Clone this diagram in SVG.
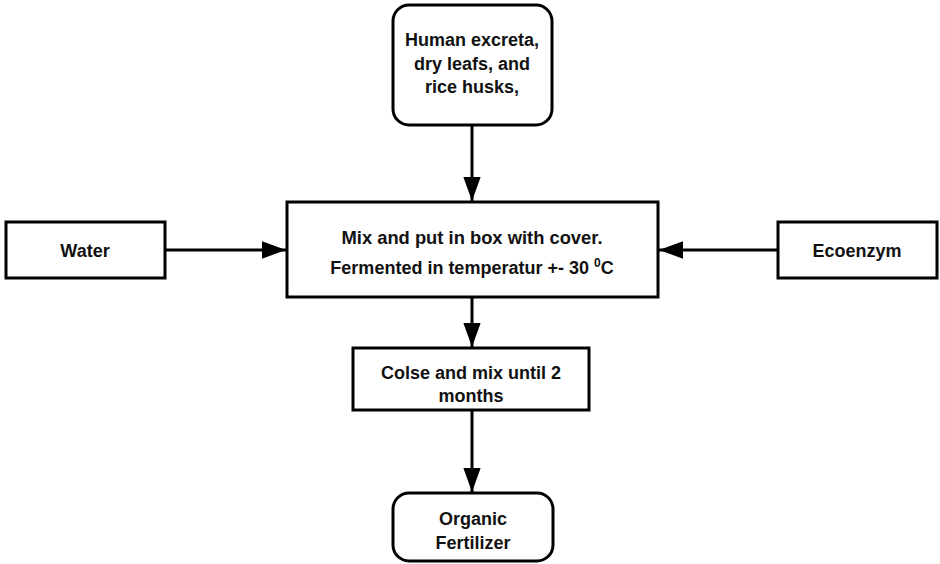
<svg xmlns="http://www.w3.org/2000/svg" width="940" height="564" viewBox="0 0 940 564">
<style>
.box{fill:#fff;stroke:#000;stroke-width:3}
.t{font-family:"Liberation Sans",Arial,sans-serif;font-weight:bold;font-size:18px;fill:#111;text-anchor:middle}
.c{stroke:#000;stroke-width:3;fill:none}
</style>
<defs>
<marker id="ah" viewBox="0 0 10 10" refX="10" refY="5" markerWidth="8" markerHeight="8" markerUnits="strokeWidth" orient="auto">
<path d="M0,1.4 L10,5 L0,8.6 z" fill="#000"/>
</marker>
</defs>
<rect width="940" height="564" fill="#fff"/>
<g id="connectors">
<line class="c" x1="472" y1="125" x2="472" y2="201" marker-end="url(#ah)"/>
<line class="c" x1="165" y1="250" x2="286" y2="250" marker-end="url(#ah)"/>
<line class="c" x1="778" y1="250" x2="659" y2="250" marker-end="url(#ah)"/>
<line class="c" x1="472" y1="297" x2="472" y2="347" marker-end="url(#ah)"/>
<line class="c" x1="472" y1="410" x2="472" y2="492" marker-end="url(#ah)"/>
</g>
<g id="n-input">
<rect class="box" x="393" y="5" width="159" height="120" rx="16"/>
<text class="t" x="472" y="46" textLength="134" lengthAdjust="spacingAndGlyphs">Human excreta,</text>
<text class="t" x="472" y="70">dry leafs, and</text>
<text class="t" x="472" y="93">rice husks,</text>
</g>
<g id="n-mix">
<rect class="box" x="287" y="202" width="371" height="95"/>
<text class="t" x="472" y="244" textLength="261" lengthAdjust="spacingAndGlyphs">Mix and put in box with cover.</text>
<text class="t" x="472" y="274">Fermented in temperatur +- 30 <tspan font-size="12" dy="-7">0</tspan><tspan dy="7">C</tspan></text>
</g>
<g id="n-water">
<rect class="box" x="6" y="222" width="159" height="56"/>
<text class="t" x="85" y="257" font-size="19">Water</text>
</g>
<g id="n-eco">
<rect class="box" x="778" y="222" width="159" height="56"/>
<text class="t" x="857" y="257" font-size="19">Ecoenzym</text>
</g>
<g id="n-close">
<rect class="box" x="353" y="348" width="236" height="62"/>
<text class="t" x="471" y="379">Colse and mix until 2</text>
<text class="t" x="471" y="402">months</text>
</g>
<g id="n-out">
<rect class="box" x="393" y="493" width="160" height="68" rx="16"/>
<text class="t" x="473" y="525">Organic</text>
<text class="t" x="473" y="549">Fertilizer</text>
</g>
</svg>
